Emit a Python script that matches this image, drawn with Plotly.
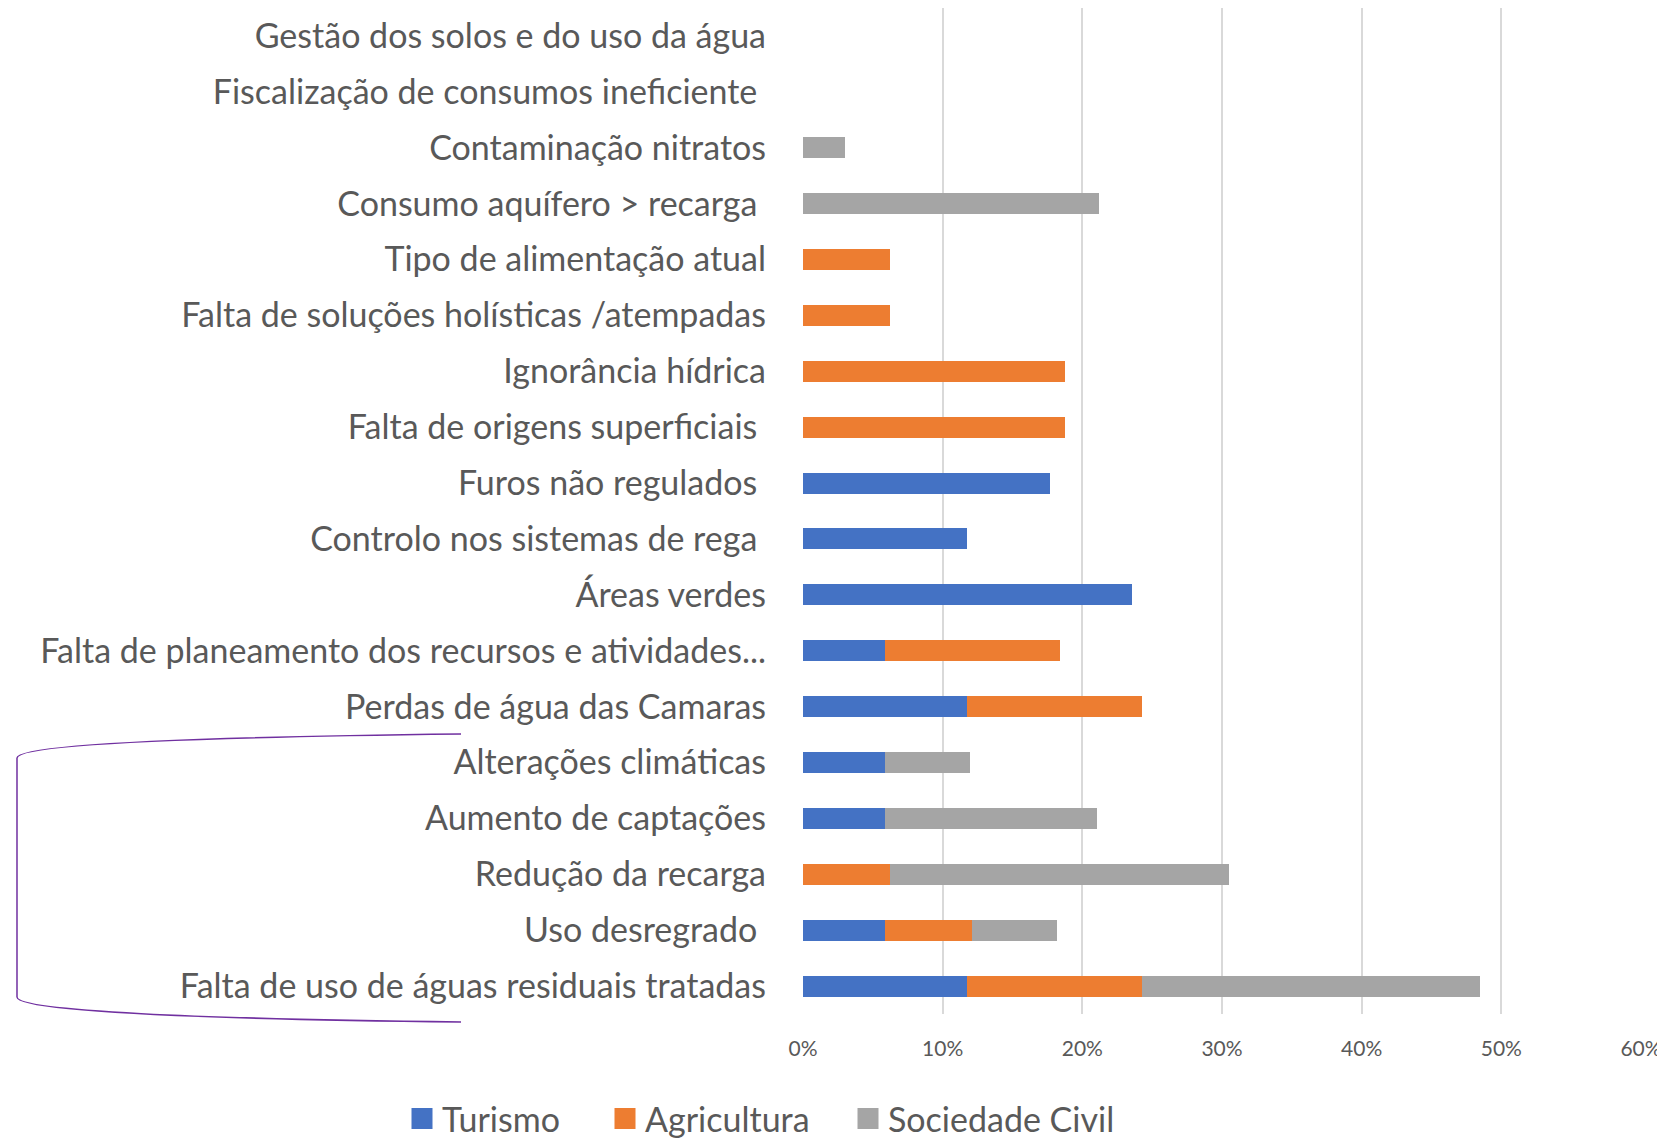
import plotly.graph_objects as go

NB = "\u00a0"
categories = [
    "Gestão dos solos e do uso da água",
    "Fiscalização de consumos ineficiente" + NB,
    "Contaminação nitratos",
    "Consumo aquífero > recarga" + NB,
    "Tipo de alimentação atual",
    "Falta de soluções holísticas /atempadas",
    "Ignorância hídrica",
    "Falta de origens superficiais" + NB,
    "Furos não regulados" + NB,
    "Controlo nos sistemas de rega" + NB,
    "Áreas verdes",
    "Falta de planeamento dos recursos e atividades...",
    "Perdas de água das Camaras",
    "Alterações climáticas",
    "Aumento de captações",
    "Redução da recarga",
    "Uso desregrado" + NB,
    "Falta de uso de águas residuais tratadas",
]

turismo = [0, 0, 0, 0, 0, 0, 0, 0, 0.1765, 0.1176, 0.2353, 0.0588, 0.1176, 0.0588, 0.0588, 0, 0.0588, 0.1176]
agricultura = [0, 0, 0, 0, 0.0625, 0.0625, 0.1875, 0.1875, 0, 0, 0, 0.125, 0.125, 0, 0, 0.0625, 0.0625, 0.125]
sociedade = [0, 0, 0.0303, 0.2121, 0, 0, 0, 0, 0, 0, 0, 0, 0, 0.0606, 0.1515, 0.2424, 0.0606, 0.2424]

series_names = ["Turismo", "Agricultura", "Sociedade Civil"]
colors = ["#4472C4", "#ED7D31", "#A5A5A5"]
x_ticks = [0, 0.1, 0.2, 0.3, 0.4, 0.5, 0.6]

OFF = 8  # default page body margin
W, H = 1665 - OFF, 1138 - OFF
L, R, T, B = 795, 24, 0, 124
PW, PH = W - L - R, H - T - B
FONT = "Lato"
TXT = "#595959"


def px(x, y):
    """page pixel -> paper coords"""
    x, y = x - OFF, y - OFF
    return (x - L) / PW, (H - B - y) / PH


def P(x, y):
    a, b = px(x, y)
    return f"{a:.5f},{b:.5f}"


fig = go.Figure()
for name, vals, col in zip(series_names, [turismo, agricultura, sociedade], colors):
    fig.add_trace(go.Bar(y=categories, x=vals, name=name, orientation="h",
                         marker=dict(color=col, line=dict(width=0)), showlegend=False))

legend_ids = ["legend", "legend2", "legend3"]
legend_left_px = [402, 605, 848]
legends = {}
for name, col, lid, lx in zip(series_names, colors, legend_ids, legend_left_px):
    fig.add_trace(go.Scatter(x=[None], y=[None], mode="markers", name=name, legend=lid,
                             marker=dict(symbol="square", size=16, color=col,
                                         line=dict(color=col, width=5))))
    legends[lid] = dict(orientation="h", x=px(lx, 0)[0], xanchor="left",
                        y=px(0, 1119)[1], yanchor="middle",
                        font=dict(size=34, color=TXT, family=FONT),
                        itemwidth=30, bgcolor="rgba(0,0,0,0)")

bracket = ("M " + P(461, 734) + " C " + P(200, 737) + " " + P(17, 744) + " " + P(17, 758)
           + " L " + P(17, 997) + " C " + P(17, 1011) + " " + P(200, 1019) + " " + P(461, 1022))

fig.update_layout(
    width=W, height=H,
    margin=dict(l=L, r=R, t=T, b=B, autoexpand=False),
    barmode="stack", bargap=0.625,
    plot_bgcolor="white", paper_bgcolor="white",
    font=dict(family=FONT, color=TXT),
    xaxis=dict(range=[0, 0.6], tickvals=x_ticks, tickformat=".0%", showgrid=True,
               gridcolor="#D9D9D9", gridwidth=1.5, zeroline=False, showline=False,
               tickfont=dict(size=21, color=TXT), ticks="", ticklabelstandoff=20,
               automargin=False),
    yaxis=dict(autorange="reversed", showgrid=False, zeroline=False, showline=False,
               ticks="", tickfont=dict(size=34, color=TXT), ticklabelstandoff=36,
               automargin=False),
    shapes=[dict(type="path", xref="paper", yref="paper", path=bracket,
                 line=dict(color="#7030A0", width=1.5), layer="above")],
    **legends,
)

fig.write_html("out.html")
